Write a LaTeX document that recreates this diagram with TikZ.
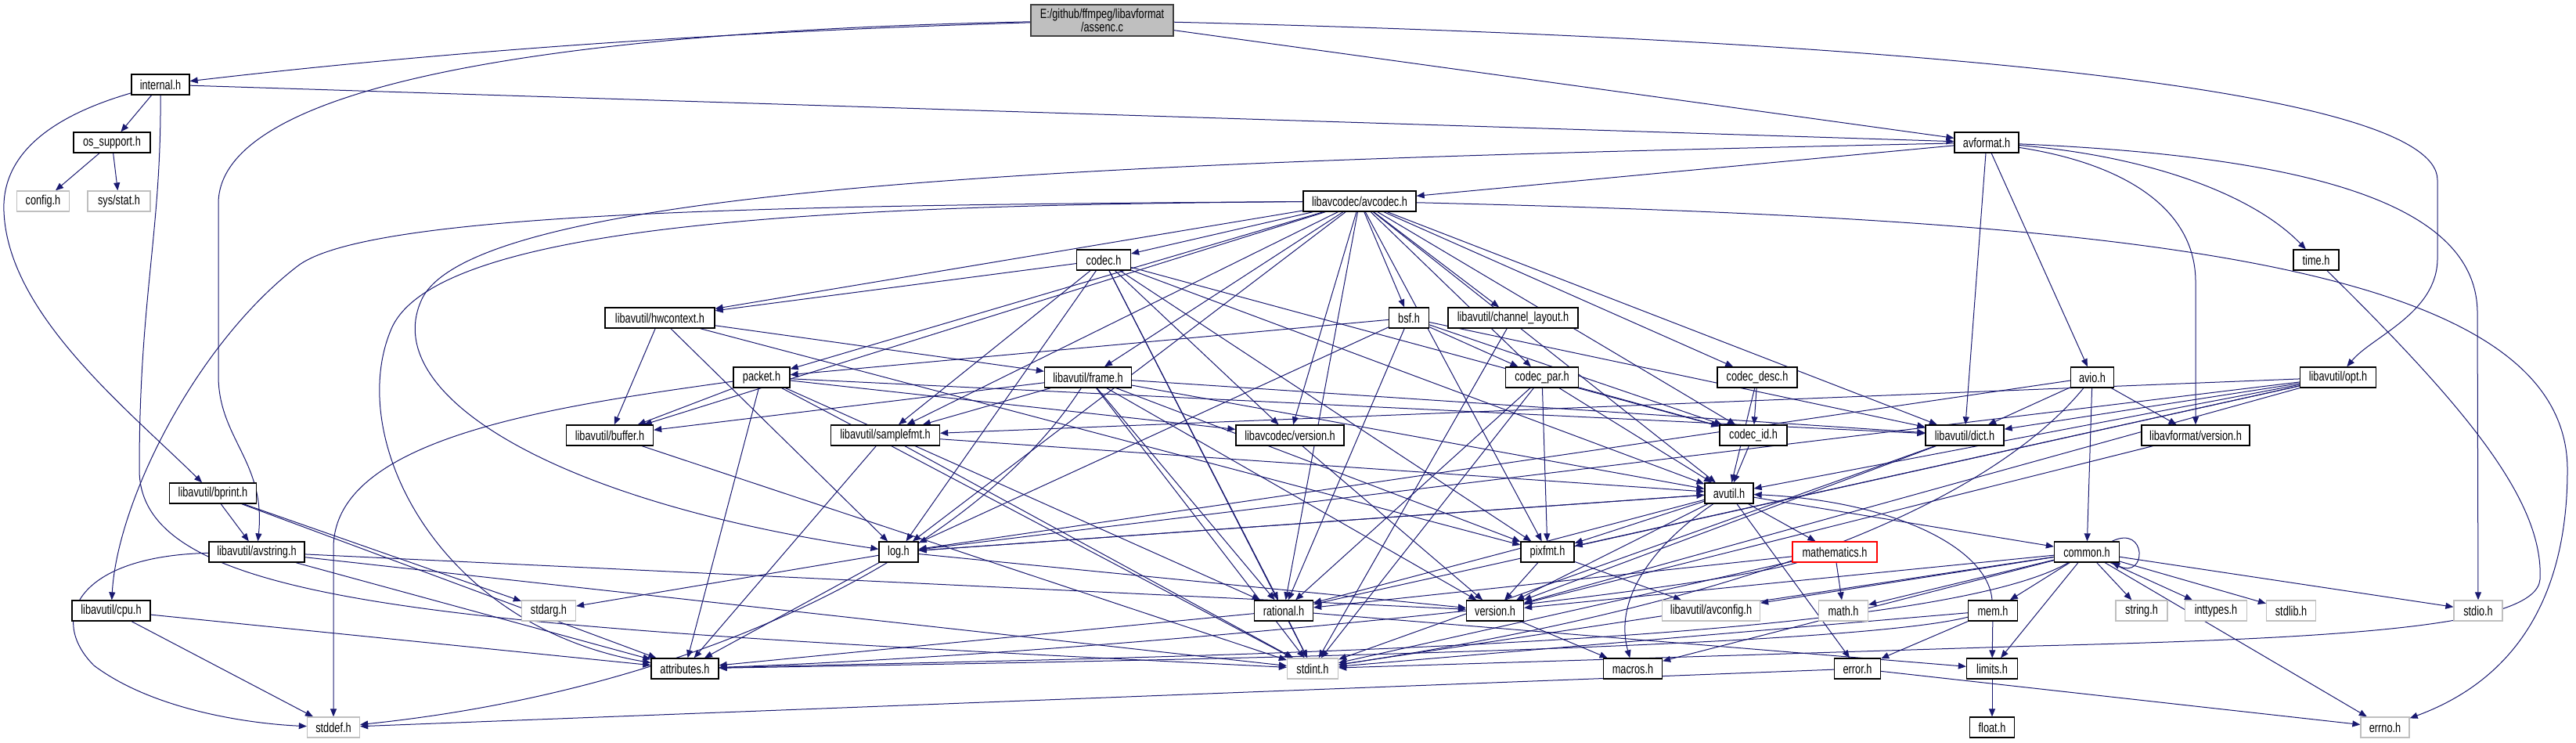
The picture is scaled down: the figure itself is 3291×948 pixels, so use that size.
\documentclass[tikz,border=0pt]{standalone}
\usepackage{fontspec}
\setmainfont{Liberation Sans}[FakeStretch=0.75]
\usepackage{xcolor}
\usepackage{tikz}
\usetikzlibrary{arrows.meta}
\definecolor{edgeblue}{HTML}{191970}
\definecolor{sysgray}{HTML}{BFBFBF}
\pgfdeclarelayer{edges}
\pgfsetlayers{edges,main}

\begin{document}
\begin{tikzpicture}[
    x=1pt, y=-1pt,
    file/.style={draw=black, line width=1.3pt, fill=white, minimum height=26pt, inner sep=0pt, font=\fontsize{17}{15.5}\selectfont},
    sysfile/.style={file, draw=sysgray},
    root/.style={file, fill=sysgray, draw=black!75, align=center, minimum height=40pt},
    partial/.style={file, draw=red},
    dep/.style={draw=edgeblue, line width=1pt, -{Triangle[length=10pt,width=8pt]}}
]
\useasboundingbox (0,0) rectangle (3291,948);

\node[root, minimum width=182pt] (assenc) at (1408,26) {E:/github/ffmpeg/libavformat\\/assenc.c};
\node[file, minimum width=74pt] (internal) at (205,108) {internal.h};
\node[file, minimum width=98pt] (ossupport) at (143,182) {os\_support.h};
\node[sysfile, minimum width=67pt] (config) at (55,257) {config.h};
\node[sysfile, minimum width=80pt] (sysstat) at (152,257) {sys/stat.h};
\node[file, minimum width=82pt] (avformat) at (2538,182) {avformat.h};
\node[file, minimum width=144pt] (avcodec) at (1737,257) {libavcodec/avcodec.h};
\node[file, minimum width=58pt] (timeh) at (2959,332) {time.h};
\node[file, minimum width=69pt] (codec) at (1410,332) {codec.h};
\node[file, minimum width=140pt] (hwcontext) at (843,406) {libavutil/hwcontext.h};
\node[file, minimum width=51pt] (bsf) at (1800,406) {bsf.h};
\node[file, minimum width=166pt] (chlayout) at (1933,406) {libavutil/channel\_layout.h};
\node[file, minimum width=72pt] (packet) at (973,482) {packet.h};
\node[file, minimum width=111pt] (frame) at (1390,482) {libavutil/frame.h};
\node[file, minimum width=93pt] (codecpar) at (1970,482) {codec\_par.h};
\node[file, minimum width=102pt] (codecdesc) at (2245,482) {codec\_desc.h};
\node[file, minimum width=55pt] (avio) at (2673,482) {avio.h};
\node[file, minimum width=97pt] (opt) at (2987,482) {libavutil/opt.h};
\node[file, minimum width=111pt] (buffer) at (779,556) {libavutil/buffer.h};
\node[file, minimum width=139pt] (samplefmt) at (1131,556) {libavutil/samplefmt.h};
\node[file, minimum width=138pt] (lavcversion) at (1648,556) {libavcodec/version.h};
\node[file, minimum width=86pt] (codecid) at (2240,556) {codec\_id.h};
\node[file, minimum width=100pt] (dict) at (2510,556) {libavutil/dict.h};
\node[file, minimum width=138pt] (lavfversion) at (2805,556) {libavformat/version.h};
\node[file, minimum width=111pt] (bprint) at (272,630) {libavutil/bprint.h};
\node[file, minimum width=62pt] (avutil) at (2209,630) {avutil.h};
\node[file, minimum width=122pt] (avstring) at (328,705) {libavutil/avstring.h};
\node[file, minimum width=50pt] (logh) at (1148,705) {log.h};
\node[file, minimum width=68pt] (pixfmt) at (1977,705) {pixfmt.h};
\node[partial, minimum width=108pt] (mathematics) at (2344,705) {mathematics.h};
\node[file, minimum width=83pt] (common) at (2666,705) {common.h};
\node[file, minimum width=100pt] (cpu) at (142,780) {libavutil/cpu.h};
\node[sysfile, minimum width=69pt] (stdarg) at (701,780) {stdarg.h};
\node[file, minimum width=75pt] (rational) at (1640,780) {rational.h};
\node[file, minimum width=73pt] (version) at (1910,780) {version.h};
\node[sysfile, minimum width=125pt] (avconfig) at (2186,780) {libavutil/avconfig.h};
\node[sysfile, minimum width=63pt] (mathh) at (2355,780) {math.h};
\node[file, minimum width=63pt] (mem) at (2546,780) {mem.h};
\node[sysfile, minimum width=66pt] (stringh) at (2736,780) {string.h};
\node[sysfile, minimum width=79pt] (inttypes) at (2831,780) {inttypes.h};
\node[sysfile, minimum width=63pt] (stdlib) at (2927,780) {stdlib.h};
\node[sysfile, minimum width=62pt] (stdio) at (3166,780) {stdio.h};
\node[file, minimum width=86pt] (attributes) at (875,854) {attributes.h};
\node[sysfile, minimum width=65pt] (stdint) at (1677,854) {stdint.h};
\node[file, minimum width=75pt] (macros) at (2086,854) {macros.h};
\node[file, minimum width=59pt] (error) at (2373,854) {error.h};
\node[file, minimum width=65pt] (limits) at (2545,854) {limits.h};
\node[sysfile, minimum width=67pt] (stddef) at (426,929) {stddef.h};
\node[file, minimum width=57pt] (floath) at (2545,929) {float.h};
\node[sysfile, minimum width=62pt] (errno) at (3047,929) {errno.h};

\begin{pgfonlayer}{edges}
\draw[dep] (assenc) .. controls (950,40) and (600,62) .. (internal);
\draw[dep] (assenc) .. controls (700,40) and (279,110) .. (279,260) -- (279,480) .. controls (279,560) and (340,590) .. (avstring);
\draw[dep] (assenc) -- (avformat);
\draw[dep] (assenc) .. controls (2400,50) and (3114,110) .. (3114,230) -- (3114,330) .. controls (3114,400) and (3030,430) .. (opt);

\draw[dep] (internal) -- (ossupport);
\draw[dep] (internal) -- (avformat);
\draw[dep] (internal) .. controls (60,150) and (2,200) .. (5,270) .. controls (10,400) and (160,520) .. (bprint);
\draw[dep] (internal) .. controls (206,300) and (178,380) .. (178,600) .. controls (178,780) and (600,800) .. (stdint);
\draw[dep] (ossupport) -- (config);
\draw[dep] (ossupport) -- (sysstat);

\draw[dep] (avformat) -- (avcodec);
\draw[dep] (avformat) .. controls (2750,200) and (2880,250) .. (timeh);
\draw[dep] (avformat) .. controls (2950,200) and (3165,260) .. (3165,400) -- (stdio);
\draw[dep] (avformat) -- (dict);
\draw[dep] (avformat) -- (avio);
\draw[dep] (avformat) .. controls (2720,210) and (2805,270) .. (2805,360) -- (lavfversion);
\draw[dep] (avformat) .. controls (1500,205) and (620,230) .. (540,380) .. controls (480,500) and (700,640) .. (logh);
\draw[dep] (timeh) .. controls (3150,520) and (3250,640) .. (3245,740) .. controls (3240,800) and (3000,815) .. (2600,825) -- (stdint);

\draw[dep] (avcodec) .. controls (2700,280) and (3280,330) .. (3280,600) .. controls (3280,800) and (3180,880) .. (errno);
\draw[dep] (avcodec) .. controls (1000,262) and (470,270) .. (380,340) .. controls (250,440) and (150,640) .. (cpu);
\draw[dep] (avcodec) .. controls (1100,262) and (560,280) .. (500,420) .. controls (440,560) and (560,800) .. (attributes);
\draw[dep] (avcodec) -- (codec);
\draw[dep] (avcodec) -- (bsf);
\draw[dep] (avcodec) -- (chlayout);
\draw[dep] (avcodec) -- (codecpar);
\draw[dep] (avcodec) -- (codecdesc);
\draw[dep] (avcodec) -- (codecid);
\draw[dep] (avcodec) -- (packet);
\draw[dep] (avcodec) -- (hwcontext);
\draw[dep] (avcodec) -- (frame);
\draw[dep] (avcodec) -- (samplefmt);
\draw[dep] (avcodec) -- (lavcversion);
\draw[dep] (avcodec) -- (buffer);
\draw[dep] (avcodec) -- (dict);
\draw[dep] (avcodec) -- (logh);
\draw[dep] (avcodec) -- (pixfmt);
\draw[dep] (avcodec) -- (rational);
\draw[dep] (avcodec) -- (avutil);

\draw[dep] (codec) -- (stdint);
\draw[dep] (codec) -- (avutil);
\draw[dep] (codec) -- (hwcontext);
\draw[dep] (codec) -- (logh);
\draw[dep] (codec) -- (pixfmt);
\draw[dep] (codec) -- (rational);
\draw[dep] (codec) -- (samplefmt);
\draw[dep] (codec) -- (codecid);
\draw[dep] (codec) -- (lavcversion);

\draw[dep] (bsf) -- (dict);
\draw[dep] (bsf) -- (logh);
\draw[dep] (bsf) -- (rational);
\draw[dep] (bsf) -- (codecid);
\draw[dep] (bsf) -- (codecpar);
\draw[dep] (bsf) -- (packet);
\draw[dep] (codecpar) -- (stdint);
\draw[dep] (codecpar) -- (avutil);
\draw[dep] (codecpar) -- (rational);
\draw[dep] (codecpar) -- (pixfmt);
\draw[dep] (codecpar) -- (codecid);
\draw[dep] (codecdesc) -- (avutil);
\draw[dep] (codecdesc) -- (codecid);
\draw[dep] (codecid) -- (avutil);
\draw[dep] (chlayout) -- (stdint);

\draw[dep] (packet) .. controls (700,520) and (426,560) .. (426,700) -- (stddef);
\draw[dep] (packet) -- (stdint);
\draw[dep] (packet) -- (attributes);
\draw[dep] (packet) -- (buffer);
\draw[dep] (packet) -- (dict);
\draw[dep] (packet) -- (rational);
\draw[dep] (packet) -- (lavcversion);
\draw[dep] (lavcversion) -- (version);

\draw[dep] (hwcontext) -- (buffer);
\draw[dep] (hwcontext) -- (frame);
\draw[dep] (hwcontext) -- (logh);
\draw[dep] (hwcontext) -- (pixfmt);
\draw[dep] (frame) .. controls (1250,700) and (900,880) .. (stddef);
\draw[dep] (frame) -- (stdint);
\draw[dep] (frame) -- (avutil);
\draw[dep] (frame) -- (buffer);
\draw[dep] (frame) -- (dict);
\draw[dep] (frame) -- (rational);
\draw[dep] (frame) -- (samplefmt);
\draw[dep] (frame) -- (pixfmt);
\draw[dep] (frame) -- (version);
\draw[dep] (samplefmt) -- (stdint);
\draw[dep] (samplefmt) -- (avutil);
\draw[dep] (samplefmt) -- (attributes);
\draw[dep] (buffer) -- (stdint);
\draw[dep] (dict) -- (stdint);
\draw[dep] (dict) -- (version);

\draw[dep] (avio) .. controls (2560,620) and (2300,760) .. (stdint);
\draw[dep] (avio) -- (common);
\draw[dep] (avio) -- (dict);
\draw[dep] (avio) -- (logh);
\draw[dep] (avio) -- (lavfversion);
\draw[dep] (lavfversion) -- (version);
\draw[dep] (opt) -- (rational);
\draw[dep] (opt) -- (avutil);
\draw[dep] (opt) -- (dict);
\draw[dep] (opt) -- (logh);
\draw[dep] (opt) -- (pixfmt);
\draw[dep] (opt) -- (samplefmt);
\draw[dep] (opt) -- (version);

\draw[dep] (avutil) -- (common);
\draw[dep] (avutil) -- (error);
\draw[dep] (avutil) -- (rational);
\draw[dep] (avutil) -- (version);
\draw[dep] (avutil) .. controls (2120,690) and (2060,760) .. (macros);
\draw[dep] (avutil) -- (mathematics);
\draw[dep] (avutil) -- (logh);
\draw[dep] (avutil) -- (pixfmt);
\draw[dep] (logh) -- (stdarg);
\draw[dep] (logh) -- (avutil);
\draw[dep] (logh) -- (attributes);
\draw[dep] (logh) -- (version);
\draw[dep] (rational) -- (stdint);
\draw[dep] (rational) -- (limits);
\draw[dep] (rational) -- (attributes);
\draw[dep] (pixfmt) -- (avconfig);
\draw[dep] (pixfmt) -- (version);
\draw[dep] (version) -- (macros);
\draw[dep] (mathematics) -- (stdint);
\draw[dep] (mathematics) -- (mathh);
\draw[dep] (mathematics) .. controls (2150,760) and (1400,835) .. (attributes);
\draw[dep] (mathematics) -- (rational);

\draw[dep] (common) -- (errno);
\draw[dep] (common) -- (inttypes);
\draw[dep] (common) -- (limits);
\draw[dep] (common) -- (mathh);
\draw[dep] (common) -- (stdint);
\draw[dep] (common) -- (stdio);
\draw[dep] (common) -- (stdlib);
\draw[dep] (common) -- (stringh);
\draw[dep] (common) .. controls (2450,830) and (1400,840) .. (attributes);
\draw[dep] (common) -- (macros);
\draw[dep] (common) -- (version);
\draw[dep] (common) -- (avconfig);
\draw[dep] (common) -- (mem);
\draw[dep] ([xshift=-10pt]common.north east) .. controls +(45,-22) and +(45,22) .. ([xshift=-10pt]common.south east);
\draw[dep] (mem) -- (limits);
\draw[dep] (mem) -- (stdint);
\draw[dep] (mem) .. controls (2350,830) and (1400,845) .. (attributes);
\draw[dep] (mem) -- (error);
\draw[dep] (mem) .. controls (2540,700) and (2420,640) .. (avutil);
\draw[dep] (error) -- (errno);
\draw[dep] (error) -- (stddef);
\draw[dep] (limits) -- (floath);

\draw[dep] (bprint) -- (stdarg);
\draw[dep] (bprint) -- (attributes);
\draw[dep] (bprint) -- (avstring);
\draw[dep] (avstring) .. controls (100,710) and (60,790) .. (120,850) .. controls (200,910) and (330,925) .. (stddef);
\draw[dep] (avstring) -- (stdint);
\draw[dep] (avstring) -- (attributes);
\draw[dep] (avstring) -- (version);
\draw[dep] (cpu) -- (attributes);
\draw[dep] (cpu) -- (stddef);
\end{pgfonlayer}
\end{tikzpicture}
\end{document}
